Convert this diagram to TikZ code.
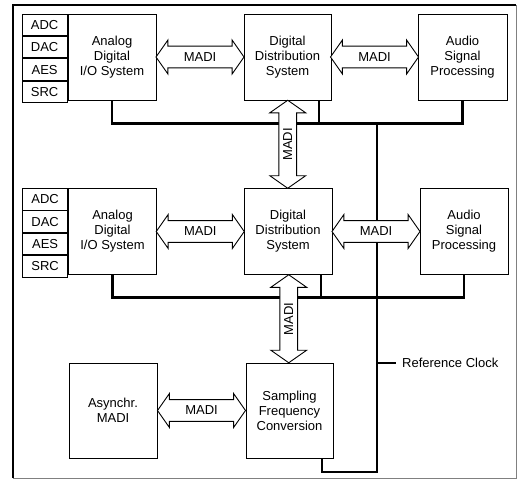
\documentclass[tikz,border=0pt]{standalone}
\usepackage{fontspec}
\setmainfont{Liberation Sans}
\usetikzlibrary{shapes.arrows,calc}

\begin{document}
\begin{tikzpicture}[x=1pt,y=-1pt]
\tikzset{boite/.style={draw, line width=0.9pt, minimum width=88pt, minimum height=86pt, align=center, font=\fontsize{13}{15}\selectfont},
petit/.style={draw, line width=0.9pt, minimum width=45pt, minimum height=21.5pt, inner sep=0pt, font=\fontsize{13}{15}\selectfont},
madi/.style={draw, fill=white, line width=0.9pt, double arrow, double arrow tip angle=110, double arrow head extend=6pt, minimum width=33pt, inner ysep=6pt, minimum height=88pt, font=\fontsize{13}{15}\selectfont},
bus/.style={line width=2.2pt}}
\useasboundingbox (0,0) rectangle (517,480);
\draw[line width=1.6pt] (13,478) -- (13,5) -- (516,5);
\draw[gray, line width=0.8pt] (516,5) -- (516,478) -- (13,478);
% first row
\node[boite] (A1) at (112,57) {Analog\\Digital\\I/O System};
\node[boite, minimum width=87pt] (D1) at (287.5,57) {Digital\\Distribution\\System};
\node[boite, minimum width=89pt] (P1) at (462.5,57) {Audio\\Signal\\Processing};
\node[petit, anchor=north east] (ADC1) at (A1.north west) {ADC};
\node[petit, anchor=north] (DAC1) at (ADC1.south) {DAC};
\node[petit, anchor=north] (AES1) at (DAC1.south) {AES};
\node[petit, anchor=north] (SRC1) at (AES1.south) {SRC};
% second row
\node[boite] (A2) at (112.5,231.5) {Analog\\Digital\\I/O System};
\node[boite] (D2) at (288,231.5) {Digital\\Distribution\\System};
\node[boite] (P2) at (464,231.5) {Audio\\Signal\\Processing};
\node[petit, anchor=north east] (ADC2) at (A2.north west) {ADC};
\node[petit, anchor=north] (DAC2) at (ADC2.south) {DAC};
\node[petit, anchor=north] (AES2) at (DAC2.south) {AES};
\node[petit, anchor=north] (SRC2) at (AES2.south) {SRC};
% third row
\node[boite, minimum height=95pt] (M) at (113,410.5) {Asynchr.\\MADI};
\node[boite, minimum width=87pt, minimum height=95pt] (C) at (289.5,410.5) {Sampling\\Frequency\\Conversion};
% reference clock and buses
\coordinate (K1) at (377,123);
\coordinate (K2) at (377,472);
\draw[bus] (A1.south) -- ++(0,23) -| (P1.south);
\draw[bus] ([xshift=31.5pt]D1.south) -- ++(0,23);
\draw[bus] (A2.south) -- ++(0,22.5) -| (P2.south);
\draw[bus] ([xshift=33pt]D2.south) -- ++(0,22.5);
\draw[bus] ([xshift=32.5pt]C.south) |- (K2) -- (K1);
\node[anchor=west, inner xsep=6pt, font=\fontsize{13}{15}\selectfont] (R) at (396,363) {Reference Clock};
\draw[bus] (K1 |- R.west) -- (R.west);
% MADI links
\node[madi] (L1) at ($(A1.east)!0.5!(D1.west)$) {MADI};
\node[madi] (L2) at ($(D1.east)!0.5!(P1.west)$) {MADI};
\node[madi] (L3) at ($(A2.east)!0.5!(D2.west)$) {MADI};
\node[madi] (L4) at ($(D2.east)!0.5!(P2.west)$) {MADI};
\node[madi] (L5) at ($(M.east)!0.5!(C.west)$) {MADI};
\node[madi, rotate=90, inner ysep=4pt, double arrow head extend=9pt, minimum width=35pt] (V1) at ($(D1.south)!0.5!(D2.north)$) {MADI};
\node[madi, rotate=90, inner ysep=4pt, double arrow head extend=9pt, minimum width=35pt] (V2) at ($(D2.south)!0.5!(C.north)$) {MADI};
\end{tikzpicture}
\end{document}
